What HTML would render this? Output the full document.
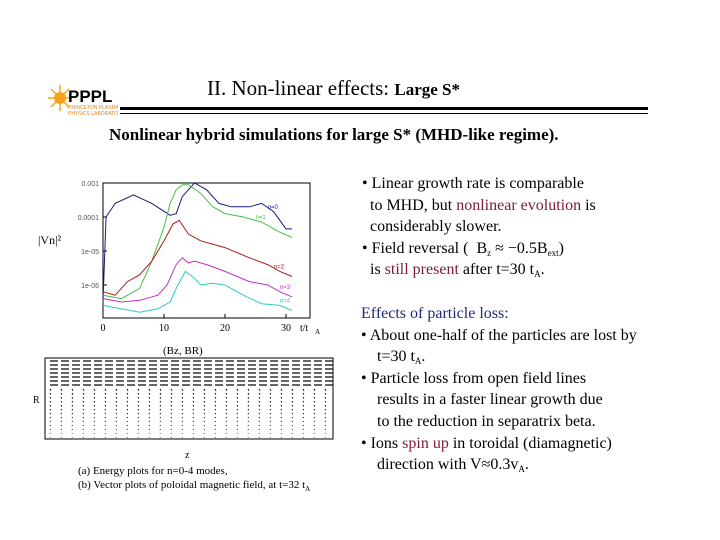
<!DOCTYPE html>
<html><head><meta charset="utf-8"><style>
body{margin:0;width:720px;height:540px;background:#fff;position:relative;overflow:hidden;font-family:"Liberation Serif",serif;color:#000}
.t{position:absolute;white-space:nowrap;font-size:16px;line-height:20px}
.r{color:#7d1a3a}
sub{vertical-align:-3px;line-height:0}
</style></head><body>
<div style="position:absolute;left:48px;top:82px;width:70px;height:36px">
<svg width="70" height="36"><circle cx="12" cy="16" r="6" fill="#f7a21b"/><g stroke="#f7a21b" stroke-width="1.5"><line x1="12" y1="3" x2="12" y2="29"/><line x1="0" y1="16" x2="24" y2="16"/><line x1="3" y1="7" x2="21" y2="25"/><line x1="3" y1="25" x2="21" y2="7"/></g>
<text x="20" y="20" font-family="Liberation Sans" font-weight="bold" font-size="17" fill="#000">PPPL</text>
<text x="20" y="27" font-family="Liberation Sans" font-size="5" fill="#e0861a">PRINCETON PLASMA</text>
<text x="20" y="33" font-family="Liberation Sans" font-size="5" fill="#e0861a">PHYSICS LABORATORY</text></svg></div>
<div class="t" style="left:207px;top:76px;font-size:21px;line-height:24px">II. Non-linear effects: <b style="font-size:17px">Large S*</b></div>
<div style="position:absolute;left:120px;top:107px;width:528px;height:3px;background:#000"></div>
<div style="position:absolute;left:120px;top:113px;width:528px;height:1px;background:#000"></div>
<div class="t" style="left:109px;top:125px;font-weight:bold;font-size:17px">Nonlinear hybrid simulations for large S* (MHD-like regime).</div>

<svg style="position:absolute;left:0;top:0" width="360" height="350" id="ch"></svg>

<div class="t" style="left:362px;top:173px;line-height:21.5px">• Linear growth rate is comparable<br>&nbsp;&nbsp;to MHD, but <span class="r">nonlinear evolution</span> is<br>&nbsp;&nbsp;considerably slower.<br>• Field reversal ( &nbsp;B<sub style="font-size:9px">z</sub> ≈ −0.5B<sub style="font-size:9px">ext</sub>)<br>&nbsp;&nbsp;is <span class="r">still present</span> after t=30 t<sub style="font-size:9px">A</sub>.</div>
<div class="t" style="left:361px;top:303px;line-height:21.6px"><span style="color:#1e2a7a">Effects of particle loss:</span><br>• About one-half of the particles are lost by<br>&nbsp;&nbsp;&nbsp;&nbsp;t=30 t<sub style="font-size:9px">A</sub>.<br>• Particle loss from open field lines<br>&nbsp;&nbsp;&nbsp;&nbsp;results in a faster linear growth due<br>&nbsp;&nbsp;&nbsp;&nbsp;to the reduction in separatrix beta.<br>• Ions <span class="r">spin up</span> in toroidal (diamagnetic)<br>&nbsp;&nbsp;&nbsp;&nbsp;direction with V≈0.3v<sub style="font-size:9px">A</sub>.</div>

<svg style="position:absolute;left:0;top:340px" width="360" height="120" id="vp"></svg>
<div class="t" style="left:78px;top:464px;font-size:11px;line-height:14px">(a) Energy plots for n=0-4 modes,<br>(b) Vector plots of poloidal magnetic field, at t=32 t<sub style="font-size:7px">A</sub></div>

<script>
const times0=[0,0.5,2,5,8,11,12,13,15,17,19,21,24,26,28,30,31];
const n0=[-6.5,-4,-3.6,-3.35,-3.6,-3.95,-3.9,-3.4,-3.0,-3.2,-3.6,-3.7,-3.7,-3.6,-3.85,-4.35,-4.35];
const times1=[0,3,6,8,10,11,12,13,14,16,18,20,23,26,29,31];
const n1=[-6.3,-6.4,-6.1,-5.3,-4.3,-3.6,-3.2,-3.05,-3.05,-3.3,-3.7,-3.9,-4.0,-4.15,-4.45,-4.6];
const times2=[0,2,4,6,8,10,11.5,12.5,14,16,20,24,27,29,31];
const n2=[-6.2,-6.3,-5.9,-5.7,-5.3,-4.7,-4.2,-4.1,-4.5,-4.7,-4.9,-5.2,-5.4,-5.6,-5.75];
const times3=[0,3,6,9,10.5,12,13,14,15,17,20,24,27,29,31];
const n3=[-6.4,-6.5,-6.45,-6.3,-6.0,-5.4,-5.2,-5.35,-5.3,-5.4,-5.6,-5.9,-6.0,-6.2,-6.35];
const times4=[0,3,6,9,11,12,13.5,15,16,18,20,23,26,29,31];
const n4=[-6.6,-6.7,-6.8,-6.7,-6.5,-6.1,-5.6,-5.8,-6.0,-5.95,-6.0,-6.3,-6.55,-6.6,-6.75];
const xTicks=[0,10,20,30];
const yTicks=[-3,-4,-5,-6];
const yTickLabels=["0.001","0.0001","1e-05","1e-06"];
const NS="http://www.w3.org/2000/svg";
const X=t=>103+t*(286-103)/30;
const Y=v=>183+(-3-v)*34;
function mk(p,tag,at){const e=document.createElementNS(NS,tag);for(const k in at)e.setAttribute(k,at[k]);p.appendChild(e);return e;}
const ch=document.getElementById('ch');
const frame=mk(ch,'rect',{x:103,y:183,width:207,height:135,fill:'none',stroke:'#000','stroke-width':1});


xTicks.forEach(t=>{
 const l=mk(ch,'line',{x1:X(t),x2:X(t),y1:318,y2:314,stroke:'#000'});
 
 
 const tx=mk(ch,'text',{x:X(t),y:331,'font-size':10,'text-anchor':'middle','font-family':'Liberation Serif'});
 tx.textContent=t;
 
 
});
yTicks.forEach((v,i)=>{
 const l=mk(ch,'line',{x1:103,x2:107,y1:Y(v),y2:Y(v),stroke:'#000'});
 
 
 const tx=mk(ch,'text',{x:99,y:Y(v)+3,'font-size':7,'text-anchor':'end','font-family':'Liberation Sans',fill:'#555'});
 tx.textContent=yTickLabels[i];
 
 
});
const xl=mk(ch,'text',{x:300,y:331,'font-size':10,'font-family':'Liberation Serif'});xl.textContent='t/t';


const xs=mk(ch,'text',{x:315,y:334,'font-size':7,'font-family':'Liberation Serif'});xs.textContent='A';
const yl=mk(ch,'text',{x:38,y:244,'font-size':12,'font-family':'Liberation Serif'});yl.textContent='|Vn|²';


const series=[[times0,n0,'#1a1a80','n=0',27],[times1,n1,'#44c044','n=1',25],[times2,n2,'#b01818','n=2',28],[times3,n3,'#c030c8','n=3',29],[times4,n4,'#30c8c8','n=4',29]];
series.forEach(([ts,vs,c,lab,lt],k)=>{
 const p=mk(ch,'polyline',{points:ts.map((t,i)=>X(t)+','+Y(vs[i])).join(' '),fill:'none',stroke:c,'stroke-width':1});
 
 
 const i=ts.findIndex(t=>t>=lt);
 const tx=mk(ch,'text',{x:X(lt),y:Y(vs[i])-3,'font-size':6,fill:c,'font-family':'Liberation Sans'});tx.textContent=lab;
 
 
});
const vp=document.getElementById('vp');
const ttl=mk(vp,'text',{x:163,y:14,'font-size':11,'font-family':'Liberation Serif'});ttl.textContent='(Bz, BR)';


const vf=mk(vp,'rect',{x:45,y:18,width:288,height:81,fill:'none',stroke:'#000'});


for(let r=0;r<20;r++){for(let c=0;c<26;c++){
 const x=50+c*11,y=21+r*4;const len=r<7?8:Math.max(1,5-r*0.2);
 const ang=r<7?0:1.3;
 const a=mk(vp,'line',{x1:x,y1:y,x2:x+len*Math.cos(ang),y2:y+len*Math.sin(ang)*0.5,stroke:'#000','stroke-width':r<7?1.2:0.9});
 
 
}}
const rl=mk(vp,'text',{x:33,y:63,'font-size':10,'font-family':'Liberation Serif'});rl.textContent='R';


const zl=mk(vp,'text',{x:185,y:118,'font-size':10,'font-family':'Liberation Serif'});zl.textContent='z';


</script>
</body></html>
